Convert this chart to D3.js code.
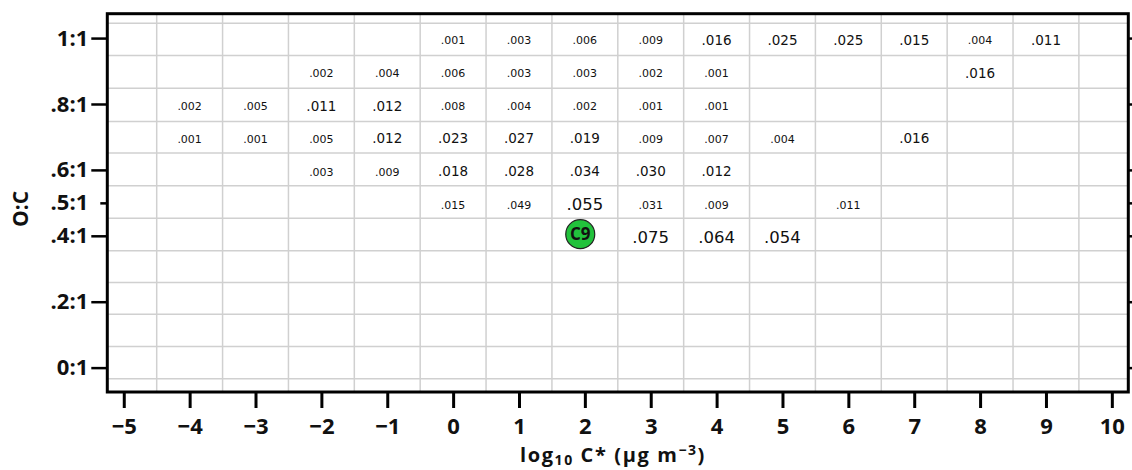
<!DOCTYPE html>
<html>
<head>
<meta charset="utf-8">
<script src="https://cdn.jsdelivr.net/npm/d3@7"></script>
<style>
  html, body { margin: 0; padding: 0; background: #fff; }
  svg { display: block; }
</style>
</head>
<body>
<svg id="chart" width="1132" height="470"></svg>
<script>
// ---- Data ----
// Row O:C ratio for each labelled cell, its log10 C* column, and the fraction shown.
const row10_logC  = [0, 1, 2, 3, 4, 5, 6, 7, 8, 9];
const row10_value = [0.001, 0.003, 0.006, 0.009, 0.016, 0.025, 0.025, 0.015, 0.004, 0.011];
const row09_logC  = [-2, -1, 0, 1, 2, 3, 4, 8];
const row09_value = [0.002, 0.004, 0.006, 0.003, 0.003, 0.002, 0.001, 0.016];
const row08_logC  = [-4, -3, -2, -1, 0, 1, 2, 3, 4];
const row08_value = [0.002, 0.005, 0.011, 0.012, 0.008, 0.004, 0.002, 0.001, 0.001];
const row07_logC  = [-4, -3, -2, -1, 0, 1, 2, 3, 4, 5, 7];
const row07_value = [0.001, 0.001, 0.005, 0.012, 0.023, 0.027, 0.019, 0.009, 0.007, 0.004, 0.016];
const row06_logC  = [-2, -1, 0, 1, 2, 3, 4];
const row06_value = [0.003, 0.009, 0.018, 0.028, 0.034, 0.030, 0.012];
const row05_logC  = [0, 1, 2, 3, 4, 6];
const row05_value = [0.015, 0.049, 0.055, 0.031, 0.009, 0.011];
const row04_logC  = [3, 4, 5];
const row04_value = [0.075, 0.064, 0.054];
const rowOC = [1.0, 0.9, 0.8, 0.7, 0.6, 0.5, 0.4];

// Marked species
const markerName = ["C9"];
const markerLogC = [1.93];
const markerOC   = [0.405];

// Axis ticks
const xTicks = [-5, -4, -3, -2, -1, 0, 1, 2, 3, 4, 5, 6, 7, 8, 9, 10];
const yTicks = [0, 0.2, 0.4, 0.5, 0.6, 0.8, 1.0];
const yTickLabels = ["0:1", ".2:1", ".4:1", ".5:1", ".6:1", ".8:1", "1:1"];
const xGrid = [-4.5, -3.5, -2.5, -1.5, -0.5, 0.5, 1.5, 2.5, 3.5, 4.5, 5.5, 6.5, 7.5, 8.5, 9.5];
const yGrid = [1.045, 0.947, 0.848, 0.747, 0.651, 0.552, 0.4535, 0.355, 0.258, 0.162, 0.064, -0.034];

// ---- Styling (label size class per cell, separate from data) ----
const row10_size = ["s","s","s","s","m","m","m","m","s","m"];
const row09_size = ["s","s","s","s","s","s","s","m"];
const row08_size = ["s","s","m","m","s","s","s","s","s"];
const row07_size = ["s","s","s","m","m","m","m","s","s","s","m"];
const row06_size = ["s","s","m","m","m","m","m"];
const row05_size = ["s","s","l","s","s","s"];
const row04_size = ["l","l","l"];
const sizePx = { s: 11, m: 13.5, l: 16.5 };

const rows = [
  [row10_logC, row10_value, row10_size],
  [row09_logC, row09_value, row09_size],
  [row08_logC, row08_value, row08_size],
  [row07_logC, row07_value, row07_size],
  [row06_logC, row06_value, row06_size],
  [row05_logC, row05_value, row05_size],
  [row04_logC, row04_value, row04_size]
];
const cells = [];
rows.forEach((r, i) => r[0].forEach((c, j) => cells.push({ logC: c, oc: rowOC[i], value: r[1][j], size: r[2][j] })));

// ---- Scales ----
const svg = d3.select("#chart");
const pLeft = 107.3, pRight = 1128.3, pTop = 13.7, pBottom = 392;
const x = d3.scaleLinear().domain([-5.25, 10.25]).range([pLeft, pRight]);
const y = d3.scaleLinear().domain([-0.074, 1.074]).range([pBottom, pTop]);

const boldFont = "'Open Sans', 'DejaVu Sans', sans-serif";
const cellFont = "'DejaVu Sans', 'Open Sans', sans-serif";

// Grid
const grid = svg.append("g").attr("stroke", "#d0d0d0").attr("stroke-width", 1.5);
grid.selectAll("line.v").data(xGrid).join("line").attr("class", "v")
  .attr("x1", d => x(d)).attr("x2", d => x(d)).attr("y1", pTop).attr("y2", pBottom);
grid.selectAll("line.h").data(yGrid).join("line").attr("class", "h")
  .attr("x1", pLeft).attr("x2", pRight).attr("y1", d => y(d)).attr("y2", d => y(d));

// Cell labels
const fmt = d3.format(".3f");
svg.append("g").selectAll("text").data(cells).join("text")
  .attr("x", d => x(d.logC))
  .attr("y", d => y(d.oc) + 1.8)
  .attr("dy", "0.35em")
  .attr("text-anchor", "middle")
  .attr("font-family", cellFont)
  .attr("font-size", d => sizePx[d.size])
  .attr("fill", "#111")
  .text(d => fmt(d.value).replace(/^0/, ""));

// Marker
const mk = svg.append("g").selectAll("g").data(markerName.map((n, i) => ({ n, c: markerLogC[i], o: markerOC[i] })))
  .join("g").attr("transform", d => `translate(${x(d.c)},${y(d.o)})`);
mk.append("circle").attr("r", 14.5).attr("fill", "#22c23c").attr("stroke", "#222").attr("stroke-width", 1.2);
mk.append("text").attr("text-anchor", "middle").attr("dy", "0.36em")
  .attr("font-family", boldFont).attr("font-weight", "bold").attr("font-size", 17).attr("fill", "#111")
  .text(d => d.n);

// Axes
const xAxis = d3.axisBottom(x).tickValues(xTicks).tickSize(16).tickPadding(10)
  .tickFormat(d => d < 0 ? "\u2212" + Math.abs(d) : String(d));
const gx = svg.append("g").attr("transform", `translate(0,${pBottom})`).call(xAxis);
gx.select(".domain").remove();
gx.selectAll(".tick line").attr("stroke", "#000").attr("stroke-width", 3);
gx.selectAll(".tick text").attr("font-family", boldFont).attr("font-weight", "bold").attr("font-size", 22).attr("fill", "#111");

const yAxis = d3.axisLeft(y).tickValues(yTicks).tickSize(16).tickPadding(3)
  .tickFormat((d, i) => yTickLabels[i]);
const gy = svg.append("g").attr("transform", `translate(${pLeft},0)`).call(yAxis);
gy.select(".domain").remove();
gy.selectAll(".tick line").attr("stroke", "#000").attr("stroke-width", 2.5)
  .attr("x2", d => d === 0.5 ? -7 : -16);
gy.selectAll(".tick text").attr("font-family", boldFont).attr("font-weight", "bold").attr("font-size", 22).attr("fill", "#111");

const gyr = svg.append("g").attr("transform", `translate(${pRight},0)`)
  .call(d3.axisRight(y).tickValues(yTicks).tickSize(16).tickFormat(""));
gyr.select(".domain").remove();
gyr.selectAll(".tick line").attr("stroke", "#000").attr("stroke-width", 2.5);

// Frame
svg.append("rect").attr("x", pLeft).attr("y", pTop).attr("width", pRight - pLeft).attr("height", pBottom - pTop)
  .attr("fill", "none").attr("stroke", "#000").attr("stroke-width", 3);

// Axis titles
const xt = svg.append("text").attr("x", 613).attr("y", 462).attr("text-anchor", "middle")
  .attr("font-family", boldFont).attr("font-weight", "bold").attr("font-size", 20)
  .attr("letter-spacing", 1.6).attr("fill", "#111");
xt.append("tspan").text("log");
xt.append("tspan").attr("font-size", 14).attr("dy", 3).text("10");
xt.append("tspan").attr("dy", -3).text(" C* (µg m");
xt.append("tspan").attr("font-size", 14).attr("dy", -7).text("\u22123");
xt.append("tspan").attr("dy", 7).text(")");

svg.append("text").attr("transform", "translate(21,209) rotate(-90)")
  .attr("text-anchor", "middle").attr("dy", "0.35em")
  .attr("font-family", boldFont).attr("font-weight", "bold").attr("font-size", 21).attr("fill", "#111")
  .text("O:C");
</script>
</body>
</html>
